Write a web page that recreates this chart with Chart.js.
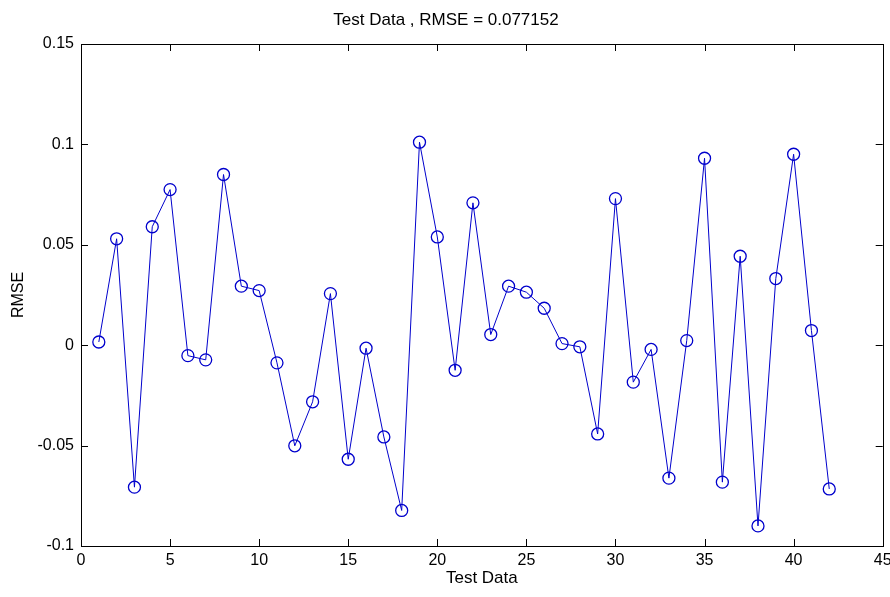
<!DOCTYPE html>
<html>
<head>
<meta charset="utf-8">
<script src="https://cdn.jsdelivr.net/npm/chart.js@4.4.0/dist/chart.umd.min.js"></script>
<style>
  html, body { margin: 0; padding: 0; background: #fff; }
  #wrap { width: 890px; height: 597px; }
</style>
</head>
<body>
<div id="wrap"><canvas id="rmseChart" width="890" height="597"></canvas></div>
<script>
// sample index 1..42
const sampleIdx = [
  1, 2, 3, 4, 5, 6, 7, 8, 9, 10, 11, 12, 13, 14, 15, 16, 17, 18, 19, 20, 21,
  22, 23, 24, 25, 26, 27, 28, 29, 30, 31, 32, 33, 34, 35, 36, 37, 38, 39, 40, 41, 42
];
// error value per sample
const errValues = [
  0.0016, 0.053, -0.0707, 0.059, 0.0775, -0.0052, -0.0073, 0.085, 0.0294, 0.0272,
  -0.0088, -0.0501, -0.0282, 0.0257, -0.0568, -0.0015, -0.0457, -0.0823, 0.1011, 0.0539,
  -0.0125, 0.0709, 0.0053, 0.0294, 0.0264, 0.0184, 0.0008, -0.0008, -0.0442, 0.073,
  -0.0184, -0.0021, -0.0662, 0.0023, 0.0931, -0.0682, 0.0443, -0.09, 0.0332, 0.0951,
  0.0073, -0.0716
];
const xTicks = [0, 5, 10, 15, 20, 25, 30, 35, 40, 45];
const yTicks = [-0.1, -0.05, 0, 0.05, 0.1, 0.15];

const FONT = "'Liberation Sans', Arial, sans-serif";

// matlab-ish box with inward ticks on all four sides
const boxTicks = {
  id: "boxTicks",
  afterDraw(chart) {
    const { ctx, chartArea: a, scales } = chart;
    const len = 7;
    ctx.save();
    ctx.strokeStyle = "#000";
    ctx.lineWidth = 1;
    ctx.strokeRect(Math.round(a.left) + 0.5, Math.round(a.top) + 0.5,
      Math.round(a.right - a.left), Math.round(a.bottom - a.top));
    ctx.beginPath();
    xTicks.forEach((v) => {
      const px = Math.round(scales.x.getPixelForValue(v)) + 0.5;
      ctx.moveTo(px, a.bottom); ctx.lineTo(px, a.bottom - len);
      ctx.moveTo(px, a.top); ctx.lineTo(px, a.top + len);
    });
    yTicks.forEach((v) => {
      const py = Math.round(scales.y.getPixelForValue(v)) + 0.5;
      ctx.moveTo(a.left, py); ctx.lineTo(a.left + len, py);
      ctx.moveTo(a.right, py); ctx.lineTo(a.right - len, py);
    });
    ctx.stroke();
    ctx.restore();
  }
};

function initChart() {
  const data = {
    datasets: [
      {
        label: "RMSE",
        data: sampleIdx.map((x, i) => ({ x: x, y: errValues[i] })),
        borderColor: "#0000cc",
        backgroundColor: "rgba(0,0,0,0)",
        borderWidth: 1,
        pointStyle: "circle",
        pointRadius: 6,
        pointBorderWidth: 1.3,
        pointBorderColor: "#0000cc",
        pointBackgroundColor: "rgba(0,0,0,0)",
        tension: 0,
      },
    ],
  };

  const config = {
    type: "line",
    data: data,
    options: {
      responsive: false,
      animation: false,
      layout: { padding: { left: 9, right: 7, top: 0, bottom: 8 } },
      plugins: {
        legend: { display: false },
        tooltip: { enabled: false },
        title: {
          display: true,
          text: "Test Data , RMSE = 0.077152",
          color: "#000",
          font: { family: FONT, size: 17, weight: "normal", lineHeight: 1.2 },
          padding: { top: 10, bottom: 13.6 },
        },
      },
      scales: {
        x: {
          type: "linear",
          min: 0,
          max: 45,
          afterBuildTicks: (s) => { s.ticks = xTicks.map((v) => ({ value: v })); },
          afterFit: (s) => { s.height = 43; s.paddingRight = 0; s.paddingLeft = 0; },
          grid: { display: false, drawTicks: false },
          border: { display: false },
          ticks: {
            color: "#000",
            padding: 5,
            font: { family: FONT, size: 16 },
            callback: (v) => String(v),
          },
          title: {
            display: true,
            text: "Test Data",
            color: "#000",
            padding: { top: 0, bottom: 0 },
            font: { family: FONT, size: 17 },
          },
        },
        y: {
          type: "linear",
          min: -0.1,
          max: 0.15,
          afterBuildTicks: (s) => { s.ticks = yTicks.map((v) => ({ value: v })); },
          afterFit: (s) => { s.width = 72; },
          grid: { display: false, drawTicks: false },
          border: { display: false },
          ticks: {
            color: "#000",
            padding: 7,
            font: { family: FONT, size: 16 },
            callback: (v) => String(Math.round(v * 100) / 100),
          },
          title: {
            display: true,
            text: "RMSE",
            color: "#000",
            padding: { top: 0, bottom: 8 },
            font: { family: FONT, size: 16 },
          },
        },
      },
    },
    plugins: [boxTicks],
  };

  const ctx = document.getElementById("rmseChart").getContext("2d");
  new Chart(ctx, config);
}

initChart();
</script>
</body>
</html>
